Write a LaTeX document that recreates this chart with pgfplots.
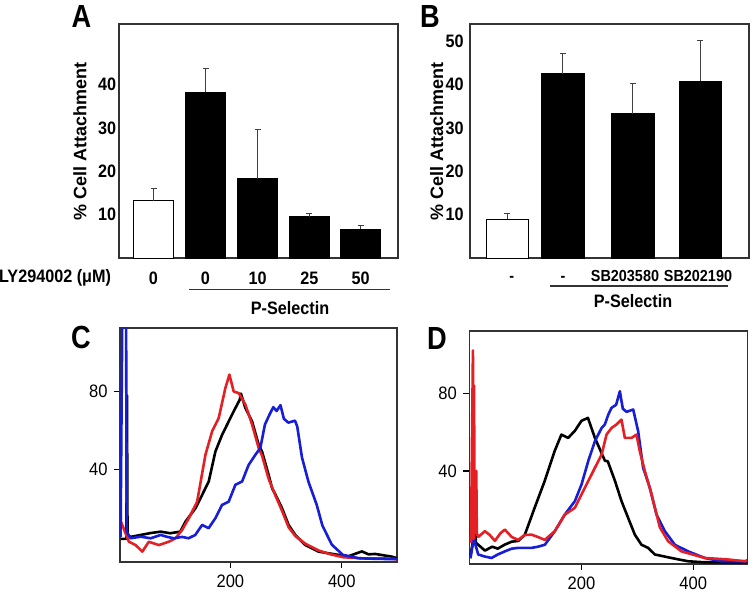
\documentclass[border=0pt]{standalone}
\usepackage{pgfplots}
\pgfplotsset{compat=1.18}
\usepackage{fontspec}
\setmainfont{Liberation Sans}

\definecolor{fcred}{RGB}{228,32,36}
\definecolor{fcblue}{RGB}{22,30,215}

\pgfplotsset{
  panel/.style={scale only axis, anchor=south west,
    axis line style={black!80, line width=0.8pt},
    /pgf/number format/assume math mode=true},
  barpanel/.style={panel, width=139.5pt, height=117pt,
    ymin=0, ymax=54, major tick length=0pt,
    tick label style={font=\bfseries\fontsize{9}{10}\selectfont, xscale=0.9},
    ylabel={\% Cell Attachment},
    ylabel style={font=\bfseries\fontsize{9}{10}\selectfont, anchor=center},
    xticklabel style={text height=6.5pt, text depth=0pt, yshift=-3pt}},
  histpanel/.style={panel, tick align=outside, major tick length=3pt,
    xtick pos=left, ytick pos=left, tick style={black, line width=0.6pt},
    tick label style={font=\fontsize{9}{10}\selectfont, xscale=0.92},
    xtick={200,400}, ytick={40,80}},
  wbar/.style={ybar, bar shift=0pt, fill=white, draw=black, line width=0.5pt},
  kbar/.style={ybar, bar shift=0pt, fill=black, draw=black, line width=0.5pt},
  errs/.style={error bars/.cd, y dir=plus, y explicit,
    error bar style={line width=0.5pt, black!75},
    error mark options={rotate=90, mark size=1.5pt, line width=0.5pt, black!75}},
  hist/.style={line width=1.3pt, line join=round, no marks},
}

\begin{document}
\begin{tikzpicture}
\useasboundingbox (0,0) rectangle (375pt,295.5pt);

% ---- A
\begin{axis}[barpanel, at={(59.5pt,166.5pt)}, xmin=119, xmax=398,
  ytick={10,20,30,40},
  xtick={153.5,205.5,257.7,309.3,360.7}, xticklabels={0,0,10,25,50},
  yticklabel style={xshift=2pt},
  ylabel style={at={(axis description cs:-0.14,0.5)}}]
\addplot[wbar, bar width=40, errs] coordinates {(153.5,13.2) +- (0,2.8)};
\addplot[kbar, bar width=40, errs] coordinates {
  (205.5,38.3) +- (0,5.5)
  (257.7,18.3) +- (0,11.4)
  (309.3,9.5) +- (0,0.7)
  (360.7,6.6) +- (0,0.8)};
\end{axis}

% ---- B
\begin{axis}[barpanel, at={(235pt,166.5pt)}, xmin=470, xmax=749,
  ytick={10,20,30,40,50},
  xtick={511.7,563,625,698}, xticklabels={-,-,SB203580,SB202190},
  xticklabel style={font=\bfseries\fontsize{8}{9}\selectfont, text height=5.8pt, yshift=0.5pt},
  ylabel style={at={(axis description cs:-0.119,0.5)}}]
\addplot[wbar, bar width=42.5, errs] coordinates {(507.3,8.9) +- (0,1.3)};
\addplot[kbar, bar width=42.5, errs] coordinates {
  (562.8,42.5) +- (0,4.8)
  (632.8,33.3) +- (0,7.0)
  (700.3,40.8) +- (0,9.4)};
\end{axis}

% ---- C
\begin{axis}[histpanel, at={(60pt,14.65pt)}, width=138.5pt, height=117pt,
  xmin=2, xmax=499, ymin=-7.8, ymax=113]
\addplot[hist, black] coordinates {
 (3,4) (13.5,4) (14.5,78) (15.5,6) (21,5) (39,6) (57,7) (75,7.7) (92,6.9)
 (110,7.7) (119.5,12.9) (137.4,19.8) (149.4,26.7) (161.2,33.6) (173.2,49.1)
 (185.2,57.7) (197,64.6) (209,71.5) (216.8,75.8) (219,79) (227,71.5)
 (239,64.6) (250.8,52.6) (256.8,49.1) (268.7,37) (275,30) (280.7,27)
 (292.7,19.8) (304.5,11.2) (316.5,6) (334.4,0.8) (358.2,-2.6) (394,-4.3)
 (412,-5) (426,-3.5) (436,-2.5) (448,-4) (460,-3.8) (475,-4.5) (490,-5.2)
 (499,-6)};
\addplot[hist, fcred] coordinates {
 (2.5,20.6) (3.5,13) (18,2.5) (30,0.8) (42,-2.6) (53.7,2.5) (71.6,0.8)
 (89.6,2.5) (101.6,4.3) (113.5,8.6) (125.4,14.6) (140.4,23.2) (155.3,47.4)
 (167.3,59.5) (179.1,66.4) (191.1,81.9) (198.3,88.8) (206,80.1) (215,79.2)
 (227,73.3) (239,63) (250.8,50.9) (256.8,47) (268.7,35) (280.7,26.5)
 (292.7,18.5) (304.5,10) (316.5,5.5) (334.4,1.5) (358.2,-2) (380,-4)
 (403,-5.5) (445,-6.2) (470,-6) (499,-6.5)};
\addplot[hist, fcblue] coordinates {
 (3,5) (6,114) (13,114) (14,7.7) (21,4.3) (39,5.1) (57,4.3) (75,6) (87,5)
 (98.5,4.3) (113.5,5) (125,4.3) (137,6) (149.4,11.2) (161,9.5) (173,14.6)
 (185,21.5) (197,23.2) (209,31.9) (221,33.6) (232.9,42.2) (244.9,47.4)
 (253.8,50.9) (262,63) (270,68) (277,72) (283,70) (290,73) (296,66)
 (304,64) (316,65) (320,62) (328.5,46) (340,33.6) (355,21.5) (365,11)
 (382,1) (402,-4.3) (430,-6) (460,-6.3) (499,-6.5)};
\end{axis}

% ---- D
\begin{axis}[histpanel, at={(234.65pt,13.5pt)}, width=139pt, height=116.5pt,
  xmin=-1, xmax=497, ymin=-7.9, ymax=112]
\addplot[hist, black] coordinates {
 (1,-4) (9,10) (11,3) (15,2) (27,-1) (40,1) (50,0) (62,2) (75,3.6) (87,4)
 (98.5,7.2) (116,21) (134,34.8) (152,50.3) (164,58.7) (176,57) (188,60.6)
 (200,65.8) (211.5,67.3) (224,57) (242,45.2) (247,45) (260,34.8)
 (271.6,24.5) (283.6,15.8) (295.5,7.2) (307.5,2) (319.4,0.4) (331.4,-3)
 (361,-4.8) (391,-6.5) (420,-7) (497,-7)};
\addplot[hist, fcblue] coordinates {
 (1,-5) (8,7) (10,2) (15,-3) (26,-4) (38.8,-4.8) (50,-3) (62.7,-1.4)
 (75,0) (86.6,0.4) (110.5,0.4) (122,1) (134.3,2) (152.2,9) (170,17.5)
 (188,24.4) (200,33) (212,45) (224,55.3) (236,62.1) (241.8,63.9) (248,69)
 (253.8,72.5) (262,74) (268.7,81) (274,72) (280.7,70.4) (292.6,71.6)
 (301.5,60.4) (310.4,41.6) (322.4,31.3) (334.4,17.5) (349.3,9) (367.2,2)
 (391,-1.4) (420.9,-4.8) (450.8,-6.5) (497,-6.5)};
\addplot[hist, fcred] coordinates {
 (2,3) (5.5,102) (6.5,5) (7.5,84) (8.5,8) (11.5,40) (12.5,8) (15,6)
 (26.9,9) (35.8,7) (44.8,4) (55,8) (62.7,9.8) (75,6) (86.6,4.5) (98,7)
 (110.5,7.2) (122,6) (134.3,4.5) (144,7) (152.2,9) (170,17.5) (188,21)
 (206,31.3) (224,41.6) (236,48.4) (244.8,58.7) (253.8,62.1) (262.7,63.9)
 (271.6,66.4) (277.6,57) (289.6,57) (298.5,58.7) (304.5,50) (313.4,40)
 (325.4,28) (340.3,11) (355.2,3.8) (379.1,-1.4) (420.9,-4.8) (460,-5.5)
 (492.6,-6.5) (497,-6)};
\end{axis}

% ---- annotations
\begin{scope}[every node/.style={font=\bfseries\fontsize{9}{10}\selectfont, xscale=0.9}]
\node[anchor=east] at (58.7pt,156.5pt) {LY294002 (μM)};
\node at (145pt,141.25pt) {P-Selectin};
\node at (316.5pt,145pt) {P-Selectin};
\end{scope}
\draw[line width=0.6pt, black!80] (94.5pt,150.85pt) -- (195pt,150.85pt);
\draw[line width=0.6pt, black!80] (275pt,152.5pt) -- (364pt,152.5pt);
\begin{scope}[every node/.style={font=\bfseries\fontsize{16}{18}\selectfont, xscale=0.85}]
\node at (40.75pt,287.25pt) {A};
\node at (215pt,287.2pt) {B};
\node at (40.5pt,127pt) {C};
\node at (218.5pt,126.5pt) {D};
\end{scope}
\end{tikzpicture}
\end{document}
